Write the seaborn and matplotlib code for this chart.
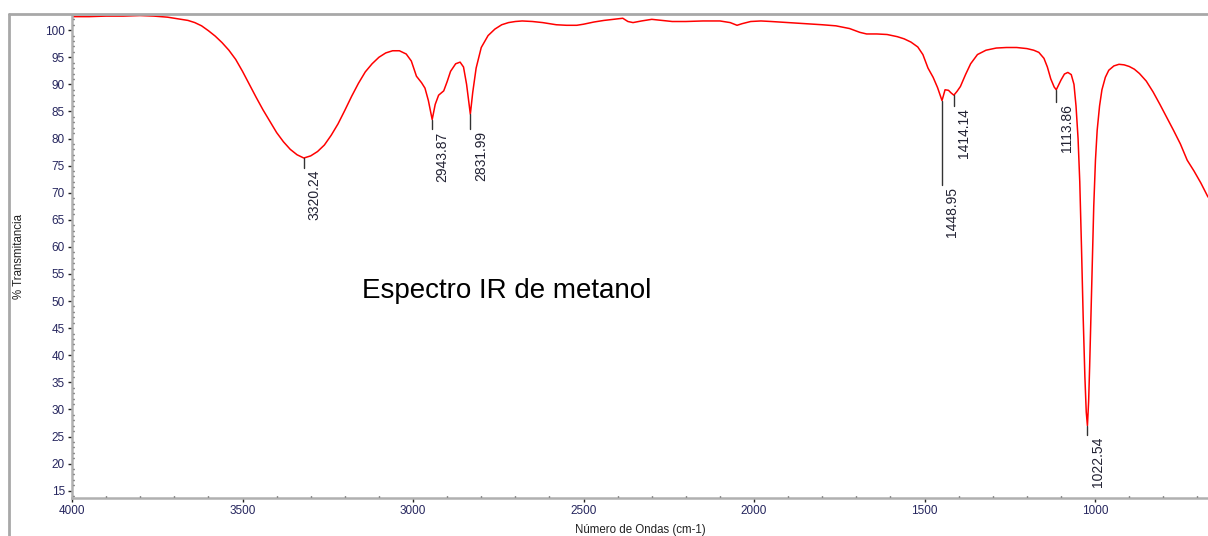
import numpy as np
import pandas as pd
import matplotlib
matplotlib.use("Agg")
import matplotlib.pyplot as plt
from matplotlib.ticker import MultipleLocator
from matplotlib.lines import Line2D
import seaborn as sns

# IR spectrum of methanol: wavenumber (cm-1) and % transmittance
wavenumber = [
    4000, 3950, 3900, 3850, 3800, 3760, 3720, 3690, 3660, 3640, 3620, 3600,
    3580, 3560, 3540, 3520, 3500, 3480, 3460, 3440, 3420, 3400, 3380, 3360,
    3340, 3320.24, 3300, 3280, 3260, 3240, 3220, 3200, 3180, 3160, 3140, 3120,
    3100, 3080, 3060, 3040, 3020, 3005, 2990, 2975, 2965, 2955, 2943.87, 2935,
    2925, 2910, 2900, 2890, 2875, 2862, 2852, 2843, 2831.99, 2825, 2815, 2800,
    2780, 2760, 2740, 2720, 2700, 2680, 2650, 2620, 2600, 2580, 2550, 2520,
    2500, 2470, 2440, 2400, 2385, 2370, 2355, 2330, 2300, 2270, 2240, 2200,
    2150, 2100, 2070, 2050, 2035, 2010, 1980, 1950, 1900, 1850, 1800, 1760,
    1720, 1690, 1670, 1640, 1610, 1580, 1560, 1540, 1520, 1505, 1490, 1475,
    1462, 1448.95, 1440, 1430, 1422, 1414.14, 1405, 1395, 1380, 1365, 1345,
    1320, 1290, 1260, 1230, 1200, 1180, 1165, 1150, 1140, 1130, 1120, 1113.86,
    1100, 1090, 1080, 1070, 1062, 1056, 1050, 1045, 1040, 1035, 1030, 1026,
    1022.54, 1019, 1016, 1012, 1008, 1004, 999, 994, 987, 980, 970, 960, 945,
    930, 915, 900, 885, 870, 850, 830, 810, 790, 770, 750, 730, 710, 690, 669,
]
transmittance = [
    102.5, 102.5, 102.6, 102.6, 102.7, 102.6, 102.4, 102.1, 101.8, 101.4, 100.8, 99.9,
    98.9, 97.7, 96.3, 94.6, 92.4, 90.0, 87.6, 85.3, 83.2, 81.1, 79.4, 78.0,
    77.0, 76.4, 76.8, 77.6, 78.8, 80.6, 82.7, 85.2, 87.8, 90.2, 92.3, 93.8,
    95.0, 95.8, 96.2, 96.2, 95.6, 94.3, 91.5, 90.3, 89.3, 87.0, 83.5, 86.3,
    88.0, 88.8, 90.5, 92.4, 93.8, 94.1, 93.2, 90.0, 84.5, 88.5, 93.0, 96.8,
    99.0, 100.2, 101.0, 101.4, 101.6, 101.7, 101.6, 101.4, 101.2, 101.0, 100.9, 100.9,
    101.1, 101.5, 101.8, 102.1, 102.2, 101.6, 101.4, 101.7, 102.0, 101.8, 101.6, 101.6,
    101.7, 101.7, 101.4, 100.9, 101.2, 101.6, 101.7, 101.6, 101.4, 101.2, 101.0, 100.8,
    100.3, 99.6, 99.3, 99.3, 99.2, 98.8, 98.4, 97.8, 96.9, 95.5, 93.0, 91.3,
    89.4, 87.0, 89.0, 88.9, 88.4, 88.0, 88.7, 89.6, 91.8, 93.8, 95.5,
    96.3, 96.7, 96.8, 96.8, 96.6, 96.3, 95.9, 94.8, 93.2, 91.0, 89.5, 89.0,
    90.8, 91.9, 92.2, 91.8, 90.0, 86.0, 80.0, 72.0, 60.0, 47.0, 36.0, 29.5,
    27.0, 31.5, 38.0, 48.0, 58.0, 67.5, 76.0, 81.5, 86.0, 89.0, 91.3, 92.6, 93.4,
    93.7, 93.6, 93.3, 92.8, 92.0, 90.6, 88.6, 86.3, 83.9, 81.5, 79.0, 76.0, 74.0, 71.8, 69.2,
]

# Labelled band minima
peak_wn = [3320.24, 2943.87, 2831.99, 1448.95, 1414.14, 1113.86, 1022.54]
peak_t = [76.4, 83.5, 84.5, 87.0, 88.0, 89.0, 27.0]
peak_labels = ["3320.24", "2943.87", "2831.99", "1448.95", "1414.14", "1113.86", "1022.54"]
# length of each marker stem below its minimum, in % units
stem_len = [1.8, 1.8, 2.8, 15.6, 2.0, 2.2, 1.7]

x_ticks = [4000, 3500, 3000, 2500, 2000, 1500, 1000]
y_ticks = list(range(15, 101, 5))

sns.set_style("white")
plt.rcParams["font.family"] = ["Liberation Sans", "DejaVu Sans"]

fig = plt.figure(figsize=(12.08, 5.36), dpi=100)
ax = fig.add_axes([72 / 1208, 38 / 536, 1 - 72 / 1208, 483 / 536])

df = pd.DataFrame({"wn": wavenumber, "T": transmittance})
sns.lineplot(data=df, x="wn", y="T", color="#ff0000", linewidth=1.1, ax=ax,
             sort=False, estimator=None)

ax.set_xlim(4000, 669)
ax.set_ylim(13.65, 102.8)

ax.set_xticks(x_ticks)
ax.set_xticklabels([str(v) for v in x_ticks])
ax.set_yticks(y_ticks)
ax.set_yticklabels([str(v) for v in y_ticks])
ax.xaxis.set_minor_locator(MultipleLocator(100))
ax.yaxis.set_minor_locator(MultipleLocator(1))

tick_color = "#26265e"
ax.tick_params(axis="both", which="major", direction="out", length=3, width=1,
               color="#222222", labelsize=8.5, labelcolor=tick_color, pad=2)
ax.tick_params(axis="both", which="minor", direction="in", length=1.5, width=1,
               color="#222222")
ax.tick_params(axis="both", which="both", bottom=True, left=True, top=False, right=False)

for side in ("top", "right"):
    ax.spines[side].set_visible(False)
for side in ("left", "bottom"):
    ax.spines[side].set_color("#b0b0b0")
    ax.spines[side].set_linewidth(1.8)

ax.set_xlabel("Número de Ondas (cm-1)", fontsize=8.3, color="#222222")
ax.set_ylabel("% Transmitancia", fontsize=8.3, color="#222222")
ax.xaxis.set_label_coords(0.5, -0.053)
ax.yaxis.set_label_coords(-0.041, 0.5)

# stems and values under each labelled minimum
for wn, t, lab, ln in zip(peak_wn, peak_t, peak_labels, stem_len):
    ax.plot([wn, wn], [t, t - ln], color="#333333", linewidth=1.0)
    ax.annotate(lab, xy=(wn, t - ln), xytext=(2.5, -1.5), textcoords="offset points",
                rotation=90, ha="left", va="top", fontsize=10, color="#222233")

ax.text(3150, 51.8, "Espectro IR de metanol", fontsize=20, color="black",
        ha="left", va="center")

# outer frame
frame_kw = dict(color="#a8a8a8", linewidth=2, transform=fig.transFigure)
fig.add_artist(Line2D([9 / 1208, 9 / 1208], [0, 1 - 14 / 536], **frame_kw))
fig.add_artist(Line2D([9 / 1208, 1], [1 - 14 / 536, 1 - 14 / 536], **frame_kw))

fig.savefig("out.png", dpi=100)
